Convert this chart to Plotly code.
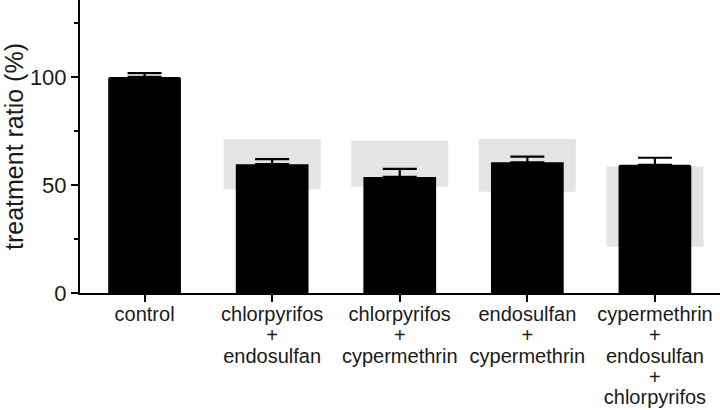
import plotly.graph_objects as go

categories = ["control", "chlorpyrifos + endosulfan", "chlorpyrifos + cypermethrin",
              "endosulfan + cypermethrin", "cypermethrin + endosulfan + chlorpyrifos"]
tick_labels = ["control",
               "chlorpyrifos<br>+<br>endosulfan",
               "chlorpyrifos<br>+<br>cypermethrin",
               "endosulfan<br>+<br>cypermethrin",
               "cypermethrin<br>+<br>endosulfan<br>+<br>chlorpyrifos"]
ratio = [100.0, 59.6, 53.7, 60.5, 59.3]
error_upper = [1.8, 2.4, 3.7, 2.6, 3.3]
# expected range (gray boxes); None for control
range_low = [None, 48.0, 49.2, 46.9, 21.4]
range_high = [None, 71.2, 70.5, 71.3, 58.5]

x_idx = list(range(len(categories)))

def wrap(label, size=20):
    return "<br>".join(f'<span style="font-size:{size}px">{p}</span>' for p in label.split("<br>"))

fig = go.Figure()

gx = [i for i in x_idx if range_low[i] is not None]
fig.add_trace(go.Bar(
    x=gx,
    y=[range_high[i] - range_low[i] for i in gx],
    base=[range_low[i] for i in gx],
    width=0.76,
    marker=dict(color="#e4e4e4", line=dict(width=0)),
    hoverinfo="skip",
    showlegend=False,
))

fig.add_trace(go.Bar(
    x=x_idx,
    y=ratio,
    width=0.57,
    marker=dict(color="black", line=dict(width=0), cornerradius=2),
    error_y=dict(type="data", symmetric=False, array=error_upper,
                 arrayminus=[0] * len(ratio), color="black", thickness=2.2, width=17),
    showlegend=False,
))

fig.update_layout(
    width=720, height=410,
    margin=dict(l=80, r=0, t=0, b=117),
    barmode="overlay",
    plot_bgcolor="white", paper_bgcolor="white",
    font=dict(family="Liberation Sans, Arial, sans-serif", color="#1a1a1a"),
    xaxis=dict(
        range=[-0.506, 4.51],
        tickmode="array", tickvals=x_idx, ticktext=[wrap(t) for t in tick_labels],
        tickfont=dict(size=16, color="#1a1a1a"),
        ticks="outside", ticklen=7, tickwidth=2, tickcolor="black",
        showline=True, linecolor="black", linewidth=2,
        showgrid=False, zeroline=False,
    ),
    yaxis=dict(
        range=[0, 135.6],
        tickmode="array", tickvals=[0, 50, 100],
        tickfont=dict(size=22, color="#1a1a1a"),
        ticks="outside", ticklen=7, tickwidth=2, tickcolor="black",
        minor=dict(tickvals=[25, 75, 125], ticks="outside", ticklen=4, tickwidth=2, tickcolor="black"),
        showline=True, linecolor="black", linewidth=2,
        showgrid=False, zeroline=False,
        title=dict(text="treatment ratio (%)", font=dict(size=25, color="#1a1a1a"), standoff=10),
    ),
)

fig.write_html("out.html", config={"displayModeBar": False},
               post_script="document.body.style.margin='0';")
